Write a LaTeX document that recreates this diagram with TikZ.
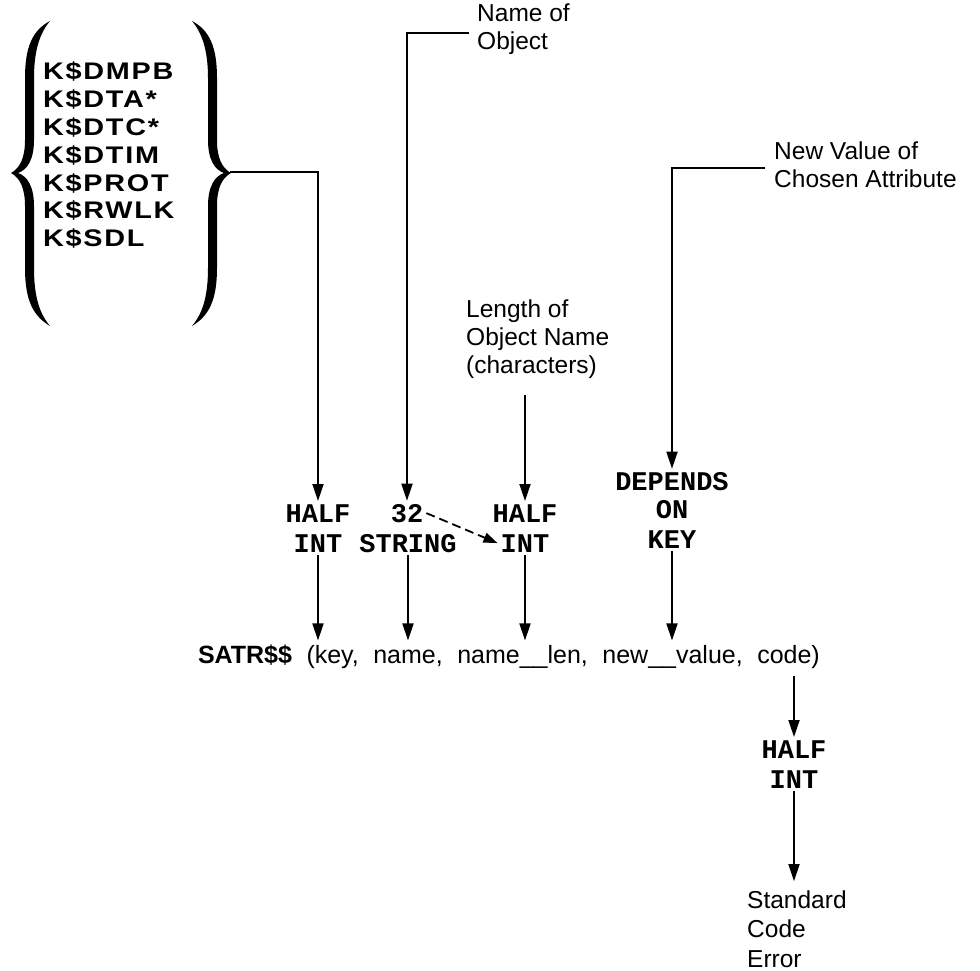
\documentclass[tikz,border=0pt]{standalone}
\usepackage{fontspec}
\usepackage{graphicx}
\setmainfont{Liberation Sans}
\newfontfamily\tyfont{Liberation Mono}
\newfontfamily\kfont[LetterSpace=6.0]{Liberation Sans}
\usetikzlibrary{arrows.meta}
\newcommand\linesL[1]{\begin{tabular}[t]{@{}l@{}}#1\end{tabular}}
\begin{document}
\begin{tikzpicture}[x=1pt,y=-1pt,
  arr/.style={-{Triangle[length=17pt,width=11pt]}, line width=1.8pt},
  tt/.style={font=\tyfont\bfseries\fontsize{27}{30}\selectfont, inner sep=3pt, anchor=base},
  lbl/.style={font=\fontsize{24.5}{28}\selectfont, inner sep=0pt, anchor=base west}]

\useasboundingbox (0,0) rectangle (980,971);

% braces
\foreach \s/\d in {1/0,-1/242}{
  \fill[shift={(\d,0)}, xscale=\s]
    (50,21) .. controls (33,30) and (25,46) .. (25,78) -- (25,140)
    .. controls (25,158) and (20,168) .. (11,173)
    .. controls (20,178) and (25,188) .. (25,206) -- (25,268)
    .. controls (25,300) and (33,316) .. (50,326)
    .. controls (40,314) and (34,298) .. (34,268) -- (34,206)
    .. controls (34,186) and (27,176) .. (18,173)
    .. controls (27,170) and (34,160) .. (34,140) -- (34,78)
    .. controls (34,50) and (40,33) .. (50,21) -- cycle;
}

\node[anchor=base west, inner sep=0pt, font=\kfont\bfseries\fontsize{24}{27.8}\selectfont] (keys) at (43,80)
  {\scalebox{1.2}[1]{\linesL{K\$DMPB\\K\$DTA*\\K\$DTC*\\K\$DTIM\\K\$PROT\\K\$RWLK\\K\$SDL}}};
\coordinate (rtip) at (230,172);

% labels
\node[lbl] (nameobj) at (477,22) {\linesL{Name of\\Object}};
\coordinate (nameC) at (469,33);
\node[lbl] (newval) at (774,160) {\linesL{New Value of\\Chosen Attribute}};
\coordinate (newC) at (765,168);
\node[lbl] (lenlbl) at (466,317) {\linesL{Length of\\Object Name\\(characters)}};
\node[lbl, font=\fontsize{24.5}{29.5}\selectfont] (stdlbl) at (747,908) {\linesL{Standard\\Code\\Error}};

% type words
\node[tt] (h1a) at (318,522) {HALF};
\node[tt] (h1b) at (318,552) {INT};
\node[tt] (s32) at (407,522) {32};
\node[tt] (sstr) at (408,552) {STRING};
\node[tt] (h3a) at (525,522) {HALF};
\node[tt] (h3b) at (525,552) {INT};
\node[tt] (d1) at (672,490) {DEPENDS};
\node[tt] (d2) at (672,518) {ON};
\node[tt] (d3) at (672,548) {KEY};
\node[tt] (h5a) at (794,758) {HALF};
\node[tt] (h5b) at (794,788) {INT};

% call line
\node[anchor=base west, inner sep=0pt, outer sep=4pt, font=\fontsize{25}{30}\selectfont] (satr) at (194,663)
  {\spaceskip=14.5pt\relax\textbf{SATR\$\$} (key, name, name\_\_len, new\_\_value, code)};

% connectors
\draw[arr] (rtip) -| (h1a.north);
\draw[arr] (nameC) -| (s32.north);
\draw[arr, shorten <=13pt] (lenlbl.south -| h3a.north) -- (h3a.north);
\draw[arr] (newC) -| (d1.north);
\draw[arr, dash pattern=on 9pt off 5pt, -{Triangle[length=14pt,width=10pt]}] (s32.east) -- (h3b.west);
\draw[arr] (h1b.south) -- (h1b.south |- satr.north);
\draw[arr] (sstr.south) -- (sstr.south |- satr.north);
\draw[arr] (h3b.south) -- (h3b.south |- satr.north);
\draw[arr] (d3.south) -- (d3.south |- satr.north);
\draw[arr, shorten <=4pt] (satr.south -| h5a.north) -- (h5a.north);
\draw[arr, shorten >=6pt] (h5b.south) -- (h5b.south |- stdlbl.north);
\end{tikzpicture}
\end{document}
